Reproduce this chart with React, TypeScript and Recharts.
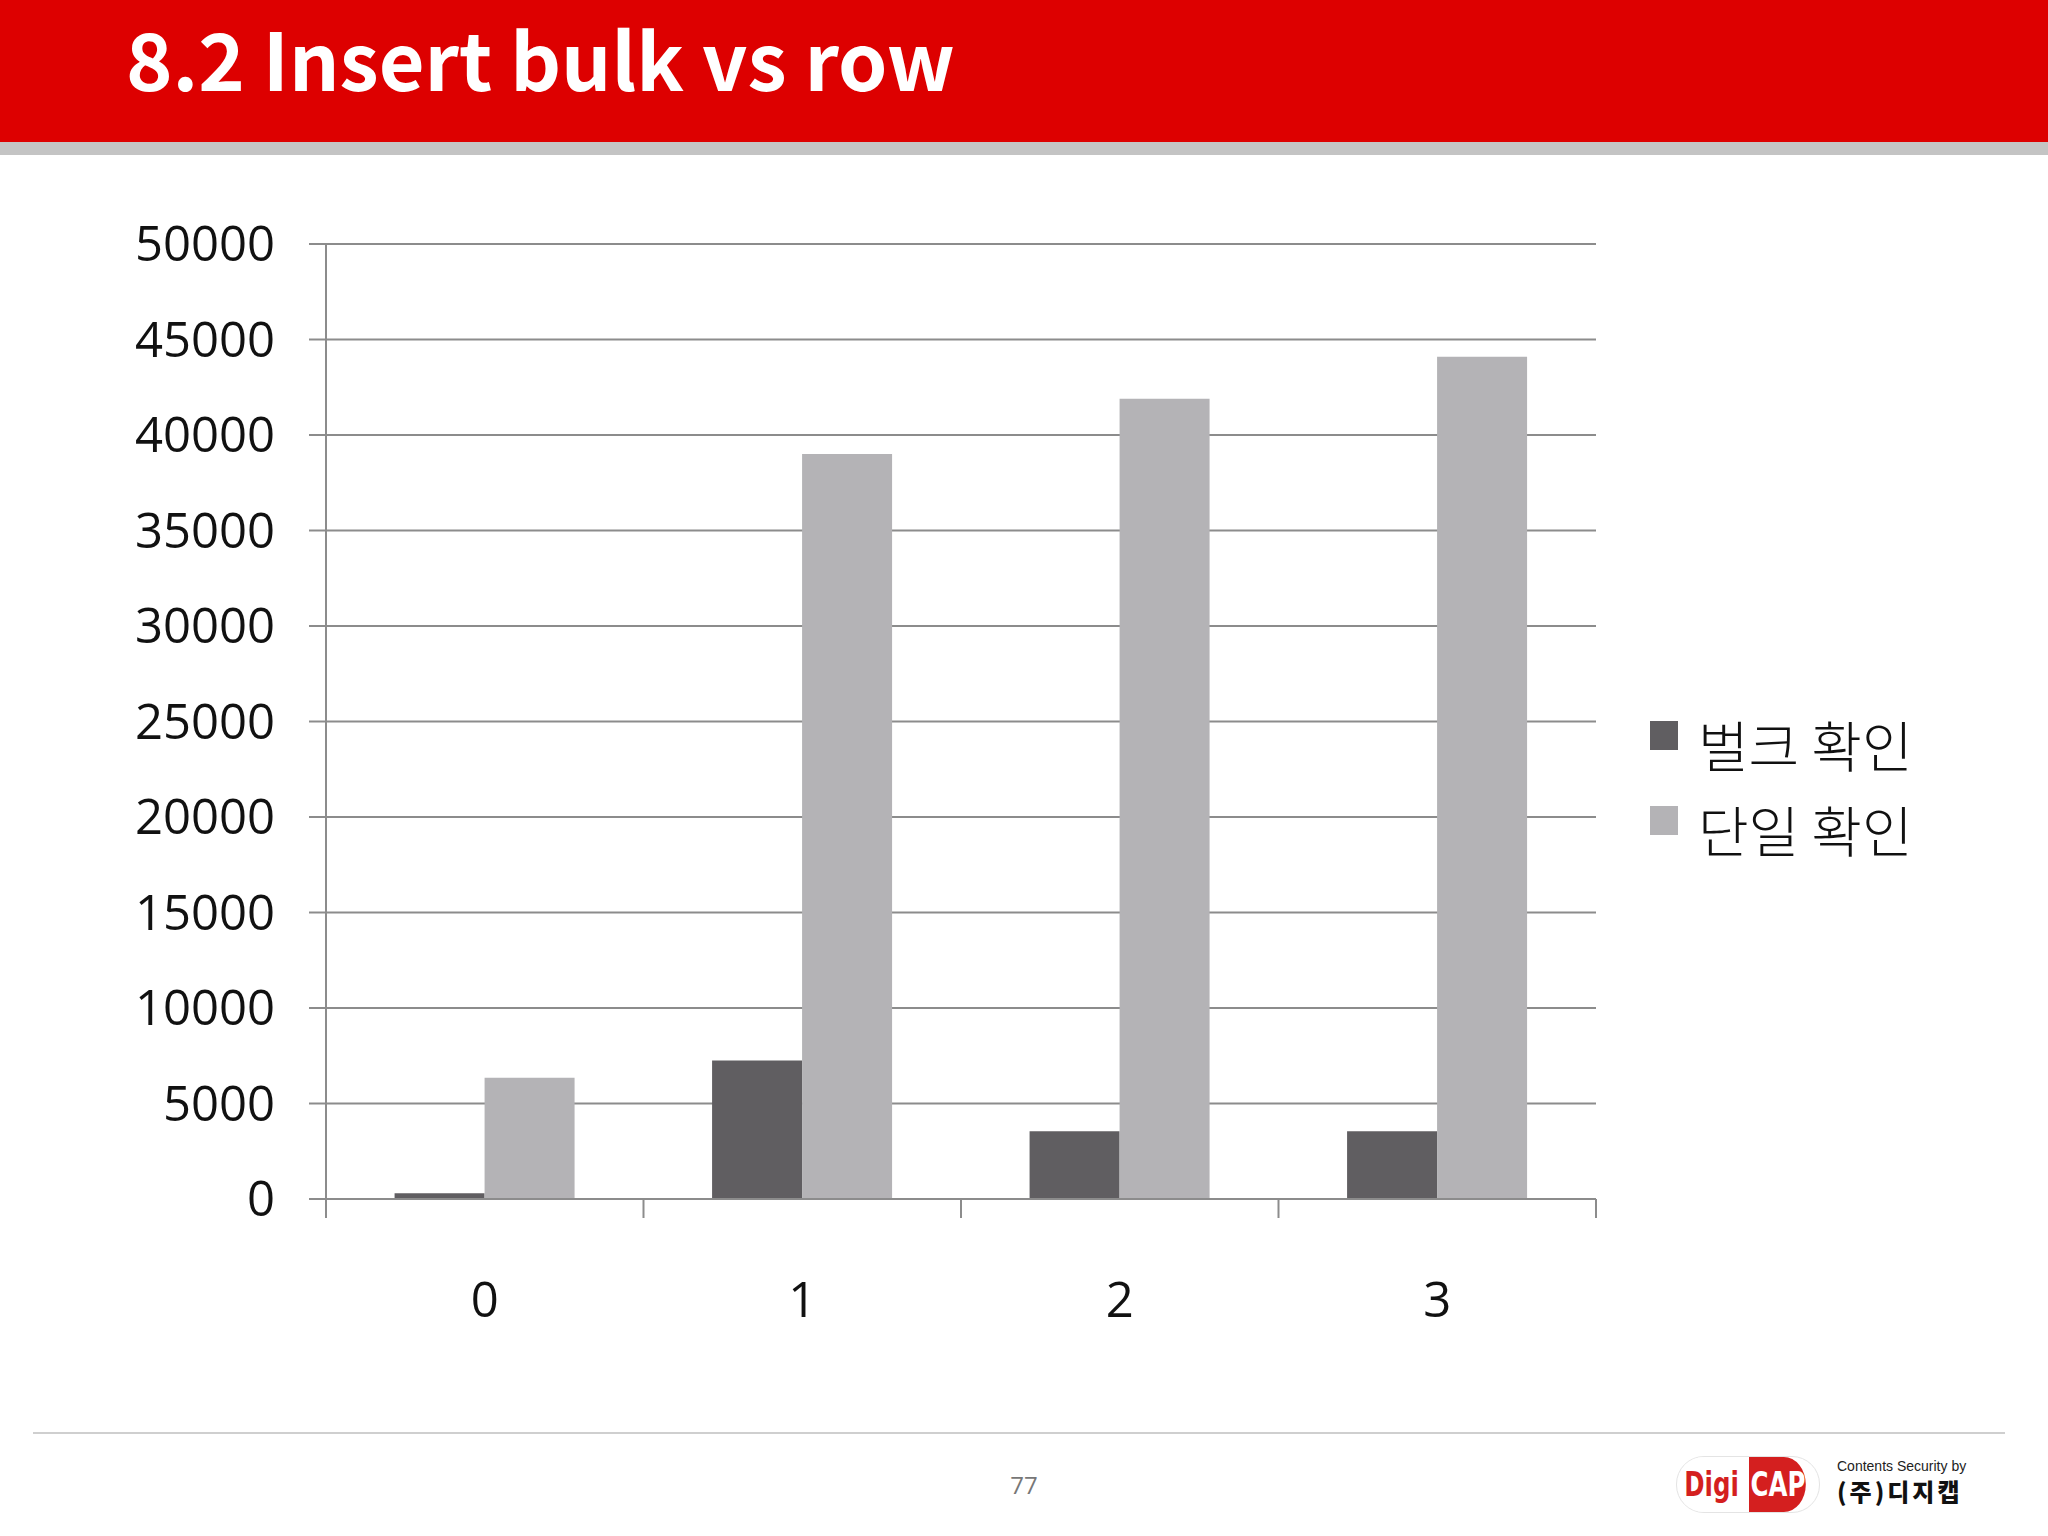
import React from 'react';
import { BarChart, Bar, XAxis, YAxis, CartesianGrid, Legend } from 'recharts';

const categories = ['0', '1', '2', '3'];
const bulkValues = [300, 7250, 3550, 3550];
const rowValues = [6350, 39000, 41900, 44100];
const yTicks = [0, 5000, 10000, 15000, 20000, 25000, 30000, 35000, 40000, 45000, 50000];
const seriesNames = ['벌크 확인', '단일 확인'];

const BULK = '#605e61';
const ROW = '#b4b3b6';
const AXIS = '#8c8c8c';
const RED = '#dd0000';

const data = categories.map((c, i) => ({ name: c, bulk: bulkValues[i], row: rowValues[i] }));

// category labels at band centres, tick marks on band edges (like the excel original)
const CatTick = (props: any) => {
  const { x, y, payload, index, visibleTicksCount } = props;
  const off = payload.offset || 0;
  const last = index === visibleTicksCount - 1;
  return (
    <g>
      <line x1={x - off} y1={y} x2={x - off} y2={y + 19} stroke={AXIS} strokeWidth={2} />
      {last && <line x1={x + off} y1={y} x2={x + off} y2={y + 19} stroke={AXIS} strokeWidth={2} />}
      <text x={x} y={y + 118} textAnchor="middle" fontSize={49} fill="#111" fontFamily="'Open Sans', sans-serif">
        {payload.value}
      </text>
    </g>
  );
};

const LegendBox = () => (
  <div style={{ fontFamily: "'Noto Sans CJK KR', sans-serif" }}>
    {seriesNames.map((n, i) => (
      <div key={n} style={{ display: 'flex', alignItems: 'center', height: 85 }}>
        <div style={{ width: 28, height: 29, background: i === 0 ? BULK : ROW, marginRight: 20, marginTop: -14 }} />
        <span style={{ fontSize: 55, color: '#111', lineHeight: '62px', fontWeight: 300 }}>{n}</span>
      </div>
    ))}
  </div>
);

export default function App() {
  return (
    <div style={{ position: 'absolute', left: 0, top: 0, width: 2048, height: 1536, background: '#fff', overflow: 'hidden' }}>
      <div style={{ position: 'absolute', left: 0, top: 0, width: 2048, height: 142, background: RED }} />
      <div style={{ position: 'absolute', left: 0, top: 142, width: 2048, height: 13, background: '#c4c4c4' }} />
      <div
        style={{
          position: 'absolute', left: 126, top: 2, color: '#fff', fontSize: 79, fontWeight: 700,
          fontFamily: "'Noto Sans CJK KR', sans-serif", lineHeight: '110px', whiteSpace: 'nowrap',
        }}
      >
        8.2 Insert bulk vs row
      </div>

      <div style={{ position: 'absolute', left: 0, top: 0 }}>
        <BarChart
          width={2048}
          height={1536}
          data={data}
          margin={{ top: 244, right: 452, left: 0, bottom: 0 }}
          barCategoryGap="21.6%"
          barGap={0}
        >
          <CartesianGrid vertical={false} stroke={AXIS} strokeWidth={2} />
          <XAxis
            dataKey="name"
            height={337}
            tickLine={false}
            tickSize={0}
            tickMargin={0}
            axisLine={{ stroke: AXIS, strokeWidth: 2 }}
            tick={<CatTick />}
            interval={0}
          />
          <YAxis
            width={326}
            domain={[0, 50000]}
            ticks={yTicks}
            interval={0}
            tickSize={17}
            tickMargin={34}
            axisLine={{ stroke: AXIS, strokeWidth: 2 }}
            tickLine={{ stroke: AXIS, strokeWidth: 2 }}
            tick={{ fontSize: 49, fill: '#111', fontFamily: "'Open Sans', sans-serif" }}
          />
          <Legend
            layout="horizontal"
            verticalAlign="middle"
            align="center"
            content={() => <LegendBox />}
            wrapperStyle={{ left: 1650, top: 700, width: 360, height: 170 }}
          />
          <Bar dataKey="bulk" name={seriesNames[0]} fill={BULK} isAnimationActive={false} />
          <Bar dataKey="row" name={seriesNames[1]} fill={ROW} isAnimationActive={false} />
        </BarChart>
      </div>

      <div style={{ position: 'absolute', left: 33, top: 1432, width: 1972, height: 2, background: '#cfcfcf' }} />
      <div
        style={{
          position: 'absolute', left: 994, top: 1468, width: 60, textAlign: 'center', fontSize: 24,
          color: '#777', fontFamily: "'Open Sans', sans-serif",
        }}
      >
        77
      </div>

      <div
        style={{
          position: 'absolute', left: 1676, top: 1456, width: 142, height: 55, borderRadius: 28,
          border: '1px solid #e4e4e4', overflow: 'hidden', display: 'flex', fontFamily: "'Liberation Sans Narrow', 'DejaVu Sans Condensed', sans-serif",
          fontWeight: 700,
        }}
      >
        <div style={{ width: 70, background: '#fff', color: '#d41f1f', fontSize: 34, textAlign: 'right', paddingRight: 4, lineHeight: '55px', transform: 'scaleX(0.8)' }}>
          Digi
        </div>
        <div style={{ flex: 1, background: '#d41f1f', color: '#fff', fontSize: 34, lineHeight: '55px', borderRadius: '0 28px 28px 0', paddingLeft: 2, transform: 'scaleX(0.8)', transformOrigin: 'left' }}>
          CAP
        </div>
      </div>
      <div style={{ position: 'absolute', left: 1837, top: 1458, fontFamily: "'Liberation Sans', sans-serif" }}>
        <div style={{ fontSize: 14, color: '#222', lineHeight: '16px' }}>Contents Security by</div>
        <div style={{ fontSize: 24, fontWeight: 900, color: '#111', fontFamily: "'Noto Sans CJK KR', sans-serif", letterSpacing: 3, lineHeight: '26px', marginTop: 4 }}>
          (주)디지캡
        </div>
      </div>
    </div>
  );
}
